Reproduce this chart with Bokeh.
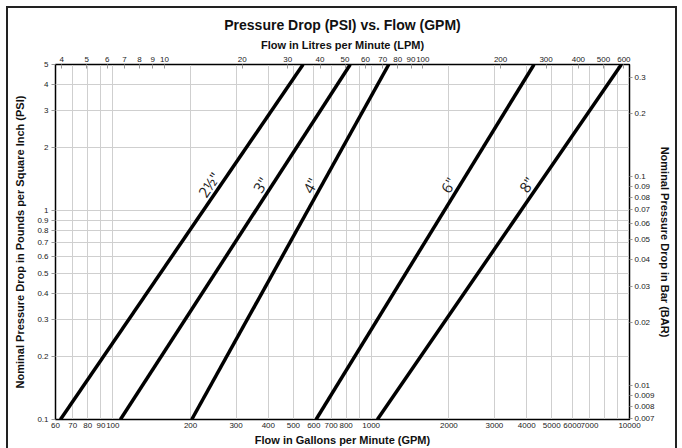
import math
from bokeh.plotting import figure
from bokeh.models import (Range1d, LogAxis, FixedTicker, CustomJSTickFormatter)
from bokeh.core.properties import value
from bokeh.embed import file_html
from bokeh.resources import INLINE

# ---------------- data ----------------
sizes = ['2½"', '3"', '4"', '6"', '8"']
psi_ends = [0.1, 5.0]
gpm_at_low = [62.7, 107, 202, 612, 1057]      # flow at 0.1 PSI
gpm_at_high = [545, 830, 1170, 4270, 9300]    # flow at 5 PSI

gpm_grid = [60, 70, 80, 90, 100, 200, 300, 400, 500, 600, 700, 800, 900,
            1000, 2000, 3000, 4000, 5000, 6000, 7000, 8000, 9000, 10000]
gpm_labels = [60, 70, 80, 90, 100, 200, 300, 400, 500, 600, 700, 800,
              1000, 2000, 3000, 4000, 5000, 6000, 7000, 10000]
top_ticks = [4, 5, 6, 7, 8, 9, 10, 20, 30, 40, 50, 60, 70, 80, 90, 100,
             200, 300, 400, 500, 600]
psi_ticks = [0.1, 0.2, 0.3, 0.4, 0.5, 0.6, 0.7, 0.8, 0.9, 1, 2, 3, 4, 5]
bar_ticks = [0.007, 0.008, 0.009, 0.01, 0.02, 0.03, 0.04, 0.05, 0.06, 0.07,
             0.08, 0.09, 0.1, 0.2, 0.3]

GPM_TO_TOP = 0.0630902   # top scale factor
PSI_TO_BAR = 0.0689476
LABEL_PSI = 1.25

X0, X1 = 60, 10000
Y0, Y1 = 0.1, 5

FONT = "Liberation Sans"
W, H = 671, 442
FW, FH = 574, 355

p = figure(width=W, height=H, x_axis_type="log", y_axis_type="log",
           x_range=Range1d(X0, X1), y_range=Range1d(Y0, Y1),
           output_backend="svg", toolbar_location=None,
           min_border_left=47, min_border_right=50,
           min_border_top=56, min_border_bottom=31,
           title="Pressure Drop (PSI) vs. Flow (GPM)")
p.extra_x_ranges = {"top": Range1d(X0 * GPM_TO_TOP, X1 * GPM_TO_TOP)}
p.extra_y_ranges = {"bar": Range1d(Y0 * PSI_TO_BAR, Y1 * PSI_TO_BAR)}

p.margin = (6, 0, 0, 6)
p.styles = {"border-left": "2px solid #222", "border-right": "2px solid #222",
            "border-top": "2px solid #222"}

p.title.align = "center"
p.title.text_font = FONT
p.title.text_font_size = "14px"
p.title.text_font_style = "bold"
p.title.text_color = "#111111"
p.title.standoff = 6

fmt = CustomJSTickFormatter(code="return tick.toString();")

def style_axis(ax, label, tick_in=0, tick_out=0):
    ax.axis_label = label
    ax.axis_label_text_font = FONT
    ax.axis_label_text_font_size = "11px"
    ax.axis_label_text_font_style = "bold"
    ax.axis_label_text_color = "#111111"
    ax.major_label_text_font = FONT
    ax.major_label_text_font_size = "8px"
    ax.major_label_text_color = "#222222"
    ax.major_tick_in = tick_in
    ax.major_tick_out = tick_out
    ax.major_tick_line_color = "#999999"
    ax.minor_tick_line_color = None
    ax.axis_line_color = "black"
    ax.formatter = fmt

# bottom
xb = p.xaxis[0]
xb.ticker = FixedTicker(ticks=gpm_labels)
style_axis(xb, "Flow in Gallons per Minute (GPM)")
xb.major_label_standoff = 3
xb.axis_label_standoff = 3

# left
yl = p.yaxis[0]
yl.ticker = FixedTicker(ticks=psi_ticks)
style_axis(yl, "Nominal Pressure Drop in Pounds per Square Inch (PSI)", tick_out=4)
yl.major_label_standoff = 3
yl.axis_label_standoff = 8

# top
xt = LogAxis(x_range_name="top", ticker=FixedTicker(ticks=top_ticks))
style_axis(xt, "Flow in Litres per Minute (LPM)", tick_in=4)
xt.major_label_standoff = 3
xt.axis_label_standoff = 3
p.add_layout(xt, "above")

# right
yr = LogAxis(y_range_name="bar", ticker=FixedTicker(ticks=bar_ticks))
style_axis(yr, "Nominal Pressure Drop in Bar (BAR)", tick_out=3)
yr.major_label_standoff = 2
yr.axis_label_standoff = 1
p.add_layout(yr, "right")

p.xgrid.ticker = FixedTicker(ticks=gpm_grid)
p.ygrid.ticker = FixedTicker(ticks=psi_ticks)
p.grid.grid_line_color = "#cfcfcf"
p.grid.grid_line_width = 1

p.outline_line_color = "black"
p.outline_line_width = 1.5

# lines
for lo, hi in zip(gpm_at_low, gpm_at_high):
    p.line([lo, hi], psi_ends, line_color="black", line_width=3.5)

# labels along lines
dec_x = math.log10(X1 / X0)
dec_y = math.log10(Y1 / Y0)
lx, ly, ang = [], [], []
for lo, hi in zip(gpm_at_low, gpm_at_high):
    k = math.log10(hi / lo) / math.log10(psi_ends[1] / psi_ends[0])
    q = lo * (LABEL_PSI / psi_ends[0]) ** k
    lx.append(q)
    ly.append(LABEL_PSI)
    sx = math.log10(hi / lo) / dec_x * FW
    sy = math.log10(psi_ends[1] / psi_ends[0]) / dec_y * FH
    ang.append(math.atan2(sy, sx))

p.text(x=lx, y=ly, text=sizes, angle=ang, text_font=value("Open Sans"),
       text_font_size="15px", text_align="center", text_baseline="bottom",
       text_color="#222222")

open("out.html", "w").write(file_html(p, INLINE))
